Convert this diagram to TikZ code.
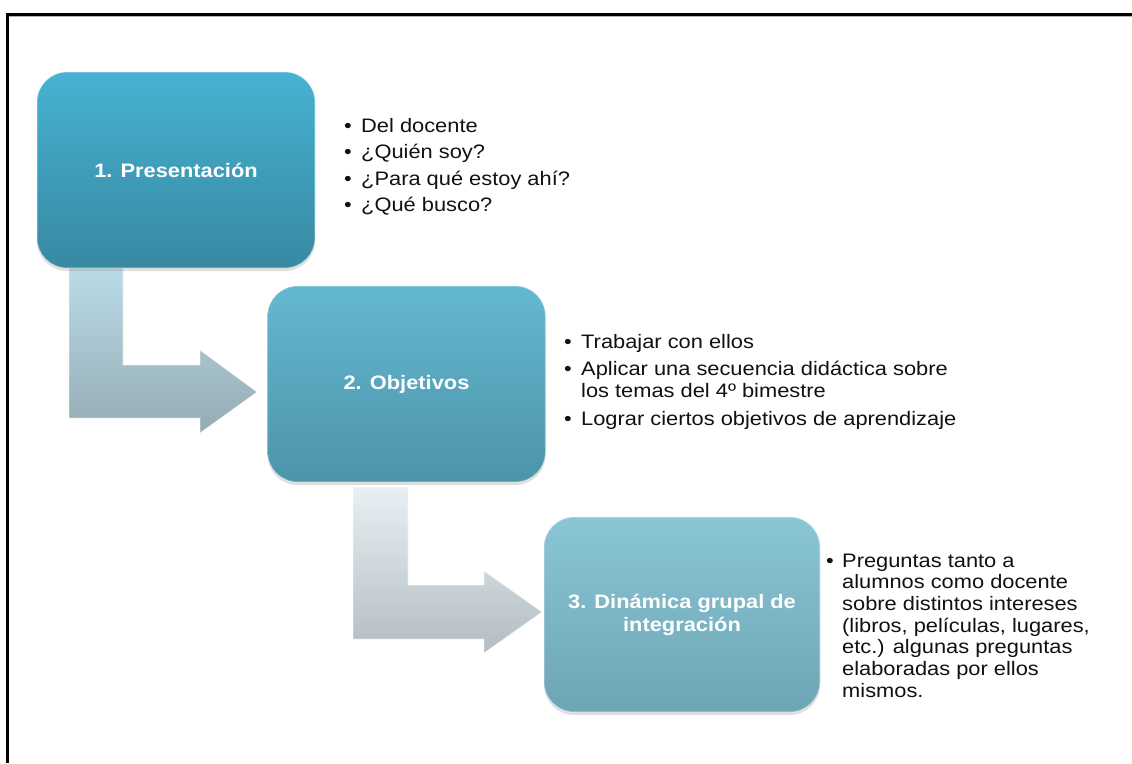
\documentclass[tikz,border=0pt]{standalone}
\usepackage{fontspec}
\setmainfont{Liberation Sans}[FakeStretch=1.12]
\usetikzlibrary{shadows}
\definecolor{bonetop}{HTML}{46B2D1}
\definecolor{bonebot}{HTML}{3889A2}
\definecolor{btwotop}{HTML}{63B8D0}
\definecolor{btwobot}{HTML}{4D94A9}
\definecolor{bthreetop}{HTML}{8AC6D6}
\definecolor{bthreebot}{HTML}{6EA5B4}
\definecolor{aonetop}{HTML}{BBDDE9}
\definecolor{aonebot}{HTML}{95ABB3}
\definecolor{atwotop}{HTML}{E8F0F4}
\definecolor{atwobot}{HTML}{B3BCC1}
\definecolor{txt}{HTML}{111111}
\begin{document}
\begin{tikzpicture}[x=1pt,y=-1pt,
  stage/.style={rounded corners=30pt, minimum width=278pt, minimum height=196pt,
    inner sep=0pt, align=center, text=white,
    font=\fontsize{19.5}{23}\selectfont\bfseries,
    draw=white, draw opacity=0.35, line width=1.2pt,
    drop shadow={shadow xshift=0pt,shadow yshift=-3pt,opacity=0.25}},
  bentarrow/.style={draw=white, draw opacity=0.55, line width=0.8pt},
  item/.style={anchor=base west, inner sep=0pt, text=txt, font=\fontsize{19.5}{22}\selectfont},
  dot/.style={anchor=base, inner sep=0pt, text=txt, font=\fontsize{19.5}{22}\selectfont},
]
\useasboundingbox (0,0) rectangle (1132,763);
\fill[white] (0,0) rectangle (1132,763);
% frame
\draw[gray!60, line width=1.5pt] (1132,16.5) -- (9,16.5);
\draw[black, line width=3pt] (7,763) -- (7,14) -- (1132,14);

% bent arrows
\path[bentarrow, top color=aonetop, bottom color=aonebot]
  (69,262) -- (123,262) -- (123,365) -- (200,365) -- (200,350) -- (257,392)
  -- (200,433) -- (200,418) -- (69,418) -- cycle;
\path[bentarrow, top color=atwotop, bottom color=atwobot]
  (353,487) -- (408,487) -- (408,585) -- (484,585) -- (484,571) -- (542,612)
  -- (484,653) -- (484,639) -- (353,639) -- cycle;

% stage boxes
\node[stage, top color=bonetop, bottom color=bonebot] (b1) at (176,170) {1. Presentación};
\node[stage, top color=btwotop, bottom color=btwobot] (b2) at (406.5,384) {2. Objetivos};
\node[stage, top color=bthreetop, bottom color=bthreebot, minimum width=276pt, minimum height=195pt]
  (b3) at (682,614.5) {3. Dinámica grupal de\\integración};

% bullets box 1
\node[dot] (d11) at (348,132) {\textbullet};
\node[item] (t11) at (361,132) {Del docente};
\node[dot] (d12) at (348,158.5) {\textbullet};
\node[item] (t12) at (361,158.5) {¿Quién soy?};
\node[dot] (d13) at (348,185) {\textbullet};
\node[item] (t13) at (361,185) {¿Para qué estoy ahí?};
\node[dot] (d14) at (348,211.5) {\textbullet};
\node[item] (t14) at (361,211.5) {¿Qué busco?};

% bullets box 2
\node[dot] (d21) at (568,348) {\textbullet};
\node[item] (t21) at (581,348) {Trabajar con ellos};
\node[dot] (d22) at (568,375) {\textbullet};
\node[item] (t22) at (581,375) {Aplicar una secuencia didáctica sobre};
\node[item] (t22b) at (581,397) {los temas del 4º bimestre};
\node[dot] (d23) at (568,425) {\textbullet};
\node[item] (t23) at (581,425) {Lograr ciertos objetivos de aprendizaje};

% bullets box 3
\node[dot] (d31) at (830,567) {\textbullet};
\node[item] (t31) at (842,567) {Preguntas tanto a};
\node[item] (t32) at (842,588.5) {alumnos como docente};
\node[item] (t33) at (842,610) {sobre distintos intereses};
\node[item] (t34) at (842,632) {(libros, películas, lugares,};
\node[item] (t35) at (842,653) {etc.) algunas preguntas};
\node[item] (t36) at (842,675) {elaboradas por ellos};
\node[item] (t37) at (842,697) {mismos.};
\end{tikzpicture}
\end{document}
